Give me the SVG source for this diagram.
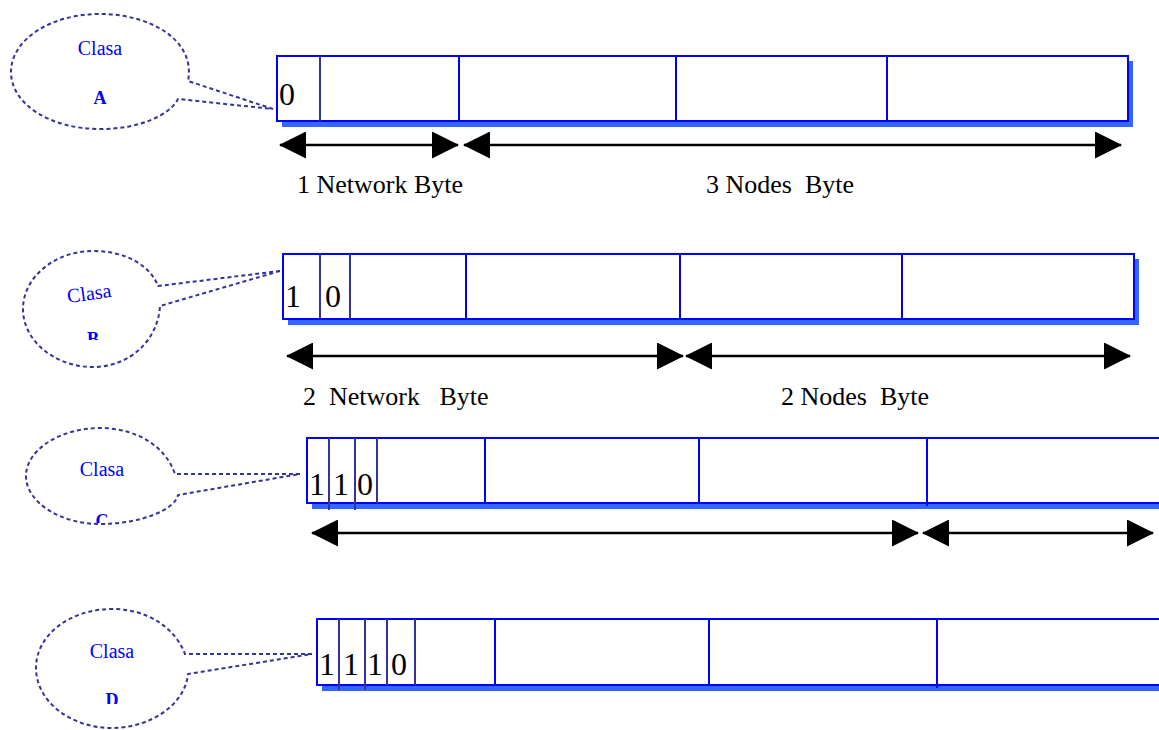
<svg xmlns="http://www.w3.org/2000/svg" width="1159" height="730" viewBox="0 0 1159 730">
<style>
.shadow{fill:#3366ff;stroke:none}
.box{fill:#fff;stroke:#0000ff;stroke-width:2}
.div{stroke:#0000ff;stroke-width:2}
.bit{stroke:#333399;stroke-width:2}
.callout{fill:none;stroke:#333399;stroke-width:2;stroke-dasharray:4 3}
.dim{stroke:#000;stroke-width:2.5;fill:none}
.num{font-family:"Liberation Serif",serif;font-size:32px;fill:#000}
.lab{font-family:"Liberation Serif",serif;font-size:26px;fill:#000}
.cl{font-family:"Liberation Serif",serif;font-size:20px;fill:#0000ff;text-anchor:middle}
.clb{font-family:"Liberation Serif",serif;font-size:18px;font-weight:bold;fill:#0000ff;text-anchor:middle}
</style>
<defs>
<marker id="ah" viewBox="0 0 27 27" refX="26" refY="13.5" markerWidth="27" markerHeight="27" markerUnits="userSpaceOnUse" orient="auto-start-reverse">
<path d="M0,0 L27,13.5 L0,27 Z" fill="#000"/>
</marker>
<clipPath id="cB"><rect x="0" y="250" width="200" height="90"/></clipPath>
<clipPath id="cC"><rect x="0" y="420" width="200" height="103"/></clipPath>
<clipPath id="cD"><rect x="0" y="600" width="200" height="104"/></clipPath>
</defs>
<rect width="1159" height="730" fill="#fff"/>

<g id="classA">
<path class="callout" d="M273,109 L188,81 C196,40 150,14 100,14 C50,14 11,40 11,72 C11,104 50,129 100,129 C140,129 170,115 178,99 L273,109"/>
<text class="cl" x="100" y="55">Clasa</text>
<text class="clb" x="100" y="104">A</text>
<rect class="shadow" x="282" y="61" width="851" height="66"/>
<rect class="box" x="277" y="56" width="851" height="65"/>
<line class="bit" x1="320" y1="56" x2="320" y2="121"/>
<line class="div" x1="459" y1="56" x2="459" y2="121"/>
<line class="div" x1="676" y1="56" x2="676" y2="121"/>
<line class="div" x1="887" y1="56" x2="887" y2="121"/>
<text class="num" x="279" y="105">0</text>
</g>

<g id="classB">
<path class="callout" d="M280,271 L158,286 C150,265 125,251 93,251 C55,251 23,277 23,309 C23,341 55,367 93,367 C130,367 158,340 160,306 L280,271"/>
<text class="cl" x="89" y="300" transform="rotate(-8 89 293)">Clasa</text>
<text class="clb" x="93" y="345" clip-path="url(#cB)">B</text>
<rect class="shadow" x="288" y="259" width="851" height="66"/>
<rect class="box" x="283" y="254" width="851" height="65"/>
<line class="bit" x1="320" y1="254" x2="320" y2="319"/>
<line class="bit" x1="350" y1="254" x2="350" y2="319"/>
<line class="div" x1="466" y1="254" x2="466" y2="319"/>
<line class="div" x1="680" y1="254" x2="680" y2="319"/>
<line class="div" x1="902" y1="254" x2="902" y2="319"/>
<text class="num" x="285" y="307">1</text>
<text class="num" x="325" y="307">0</text>
</g>

<g id="classC">
<path class="callout" d="M300,474 L175,474 C165,445 135,428 100,428 C60,428 26,450 26,476 C26,502 60,524 100,524 C140,524 175,510 178,495 L300,474"/>
<text class="cl" x="102" y="476">Clasa</text>
<text class="clb" x="102" y="527" clip-path="url(#cC)">C</text>
<rect class="shadow" x="312" y="443" width="860" height="66"/>
<rect class="box" x="307" y="438" width="860" height="65"/>
<line class="bit" x1="329" y1="438" x2="329" y2="510"/>
<line class="bit" x1="355" y1="438" x2="355" y2="510"/>
<line class="bit" x1="377" y1="438" x2="377" y2="503"/>
<line class="div" x1="485" y1="438" x2="485" y2="503"/>
<line class="div" x1="699" y1="438" x2="699" y2="503"/>
<line class="div" x1="927" y1="438" x2="927" y2="506"/>
<text class="num" x="309" y="495">1</text>
<text class="num" x="333" y="495">1</text>
<text class="num" x="357" y="495">0</text>
</g>

<g id="classD">
<path class="callout" d="M312,654 L185,654 C175,628 148,609 112,609 C70,609 36,635 36,668 C36,701 70,728 112,728 C150,728 185,705 188,674 L312,654"/>
<text class="cl" x="112" y="658">Clasa</text>
<text class="clb" x="112" y="706" clip-path="url(#cD)">D</text>
<rect class="shadow" x="322" y="624" width="850" height="67"/>
<rect class="box" x="317" y="619" width="850" height="66"/>
<line class="bit" x1="339" y1="619" x2="339" y2="690"/>
<line class="bit" x1="365" y1="619" x2="365" y2="690"/>
<line class="bit" x1="387" y1="619" x2="387" y2="685"/>
<line class="bit" x1="415" y1="619" x2="415" y2="685"/>
<line class="div" x1="495" y1="619" x2="495" y2="685"/>
<line class="div" x1="709" y1="619" x2="709" y2="685"/>
<line class="div" x1="937" y1="619" x2="937" y2="688"/>
<text class="num" x="319" y="675">1</text>
<text class="num" x="343" y="675">1</text>
<text class="num" x="367" y="675">1</text>
<text class="num" x="391" y="675">0</text>
</g>

<g id="connectors">
<line class="dim" x1="280" y1="145" x2="458" y2="145" marker-start="url(#ah)" marker-end="url(#ah)"/>
<line class="dim" x1="464" y1="145" x2="1121" y2="145" marker-start="url(#ah)" marker-end="url(#ah)"/>
<line class="dim" x1="287" y1="356" x2="683" y2="356" marker-start="url(#ah)" marker-end="url(#ah)"/>
<line class="dim" x1="686" y1="356" x2="1130" y2="356" marker-start="url(#ah)" marker-end="url(#ah)"/>
<line class="dim" x1="312" y1="533" x2="918" y2="533" marker-start="url(#ah)" marker-end="url(#ah)"/>
<line class="dim" x1="923" y1="533" x2="1153" y2="533" marker-start="url(#ah)" marker-end="url(#ah)"/>
</g>

<g id="labels">
<text class="lab" x="297" y="193">1 Network Byte</text>
<text class="lab" x="706" y="193" xml:space="preserve">3 Nodes  Byte</text>
<text class="lab" x="303" y="405" xml:space="preserve">2  Network   Byte</text>
<text class="lab" x="781" y="405" xml:space="preserve">2 Nodes  Byte</text>
</g>
</svg>
